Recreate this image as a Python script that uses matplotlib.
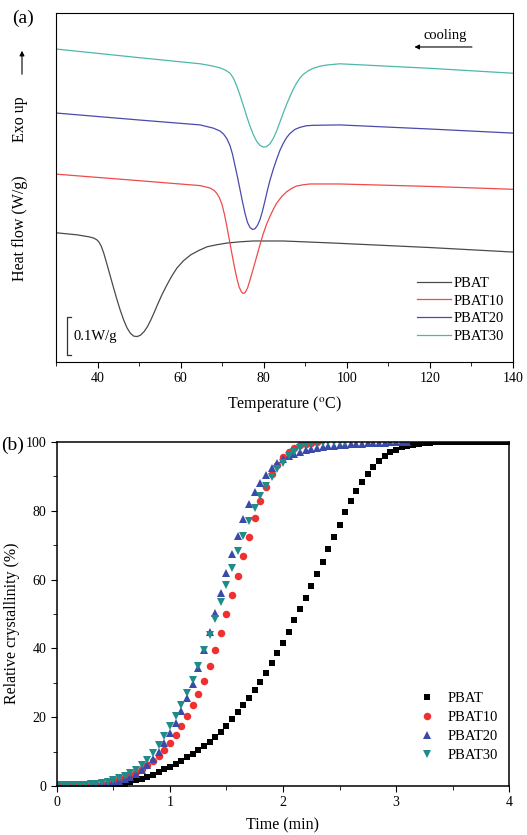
"""DSC cooling curves (a) and relative crystallinity vs time (b)."""
import matplotlib
matplotlib.use("Agg")
import matplotlib.pyplot as plt
from matplotlib.patches import FancyArrowPatch
from matplotlib.ticker import MultipleLocator

plt.rcParams["font.family"] = ["Liberation Serif", "DejaVu Serif"]
plt.rcParams["mathtext.fontset"] = "stix"

labels = ["PBAT", "PBAT10", "PBAT20", "PBAT30"]
line_colors = ["#4a4a4a", "#f04a4a", "#4a4aac", "#4db8aa"]
marker_colors = ["#000000", "#f03030", "#3a4aaa", "#1f8c8a"]
markers = ["s", "o", "^", "v"]

# ---- (a) heat flow (W/g, curves offset) vs temperature
temp_pbat = [30, 35.1, 38.0, 39.1, 39.8, 40.3, 40.9, 41.5, 42.3, 43.1, 43.9, 44.7,
             45.5, 46.3, 47.1, 47.9, 48.7, 49.5, 50.3, 51.2, 52.0, 52.8, 53.6, 54.4,
             55.5, 56.7, 57.9, 59.1, 60.7, 62.4, 64.4, 66.4, 68.8, 71.2, 74.3, 77.5,
             84.7, 96.7, 120, 140]
flow_pbat = [0.315, 0.310, 0.305, 0.302, 0.298, 0.293, 0.282, 0.265, 0.237, 0.208,
             0.179, 0.151, 0.125, 0.102, 0.083, 0.070, 0.063, 0.062, 0.065, 0.074,
             0.086, 0.102, 0.120, 0.139, 0.164, 0.188, 0.210, 0.229, 0.247, 0.261,
             0.272, 0.281, 0.286, 0.290, 0.293, 0.295, 0.295, 0.290, 0.279, 0.268]
temp_pbat10 = [30, 50, 64.7, 67.1, 68.1, 68.7, 69.3, 69.9, 70.5, 71.1, 71.7, 72.3,
               72.9, 73.5, 74.1, 74.7, 75.1, 75.5, 76.1, 76.7, 77.5, 78.3, 79.1,
               79.9, 80.7, 81.5, 82.3, 83.1, 84.3, 85.5, 86.7, 87.9, 89.5, 91.1,
               98.3, 120, 140]
flow_pbat10 = [0.458, 0.442, 0.430, 0.424, 0.418, 0.411, 0.401, 0.386, 0.362, 0.332,
               0.299, 0.266, 0.234, 0.205, 0.182, 0.170, 0.167, 0.169, 0.180, 0.200,
               0.228, 0.257, 0.286, 0.313, 0.336, 0.355, 0.372, 0.387, 0.403, 0.415,
               0.423, 0.429, 0.432, 0.434, 0.434, 0.428, 0.421]
temp_pbat20 = [30, 50, 64.7, 67.9, 69.5, 70.3, 71.1, 71.9, 72.5, 73.1, 73.7, 74.3,
               74.9, 75.5, 76.1, 76.7, 77.3, 77.9, 78.5, 79.1, 79.7, 80.3, 80.9,
               81.5, 82.3, 83.1, 83.9, 84.7, 85.5, 86.3, 87.5, 88.7, 90.3, 91.9,
               98.3, 120, 140]
flow_pbat20 = [0.607, 0.590, 0.578, 0.570, 0.563, 0.556, 0.545, 0.527, 0.506, 0.478,
               0.450, 0.420, 0.390, 0.362, 0.340, 0.328, 0.323, 0.325, 0.333, 0.347,
               0.368, 0.393, 0.419, 0.443, 0.470, 0.494, 0.516, 0.533, 0.547, 0.557,
               0.567, 0.572, 0.576, 0.577, 0.578, 0.568, 0.558]
temp_pbat30 = [30, 50, 64.7, 67.5, 69.5, 70.7, 71.9, 72.7, 73.5, 74.3, 75.1, 75.9,
               76.7, 77.5, 78.3, 79.1, 79.9, 80.7, 81.5, 82.3, 83.1, 83.9, 84.7,
               85.5, 86.3, 87.1, 87.9, 88.7, 89.5, 90.7, 91.9, 93.5, 95.1, 98.3,
               120, 140]
flow_pbat30 = [0.763, 0.742, 0.727, 0.722, 0.717, 0.712, 0.704, 0.692, 0.673, 0.650,
               0.625, 0.599, 0.575, 0.554, 0.538, 0.528, 0.524, 0.525, 0.532, 0.545,
               0.563, 0.585, 0.607, 0.628, 0.647, 0.665, 0.680, 0.692, 0.701, 0.710,
               0.716, 0.721, 0.724, 0.727, 0.716, 0.704]

# ---- (b) relative crystallinity (%) vs time (min)
time_min = [0.00, 0.05, 0.10, 0.15, 0.20, 0.25, 0.30, 0.35, 0.40, 0.45,
            0.50, 0.55, 0.60, 0.65, 0.70, 0.75, 0.80, 0.85, 0.90, 0.95,
            1.00, 1.05, 1.10, 1.15, 1.20, 1.25, 1.30, 1.35, 1.40, 1.45,
            1.50, 1.55, 1.60, 1.65, 1.70, 1.75, 1.80, 1.85, 1.90, 1.95,
            2.00, 2.05, 2.10, 2.15, 2.20, 2.25, 2.30, 2.35, 2.40, 2.45,
            2.50, 2.55, 2.60, 2.65, 2.70, 2.75, 2.80, 2.85, 2.90, 2.95,
            3.00, 3.05, 3.10, 3.15, 3.20, 3.25, 3.30, 3.35, 3.40, 3.45,
            3.50, 3.55, 3.60, 3.65, 3.70, 3.75, 3.80, 3.85, 3.90, 3.95, 4.00]
# PBAT starts at 0.50 min, the others at 0
xc_pbat = [0.0, 0.3, 0.7, 1.1, 1.6, 2.1, 2.7, 3.3, 4.0, 4.8,
           5.6, 6.5, 7.4, 8.4, 9.4, 10.5, 11.6, 12.9, 14.3, 15.8,
           17.4, 19.4, 21.4, 23.4, 25.5, 27.8, 30.2, 32.9, 35.8, 38.7,
           41.7, 44.9, 48.2, 51.4, 54.7, 58.1, 61.6, 65.2, 68.8, 72.4,
           76.0, 79.5, 82.7, 85.7, 88.3, 90.7, 92.8, 94.5, 95.9, 97.0,
           97.8, 98.4, 98.9, 99.2, 99.5, 99.7, 99.8, 99.9, 99.9, 99.9,
           100.0, 100.0, 100.0, 100.0, 100.0, 100.0, 100.0, 100.0, 100.0, 100.0, 100.0]
xc_pbat10 = [0.2, 0.2, 0.2, 0.2, 0.3, 0.3, 0.3, 0.4, 0.6, 0.9,
             1.4, 2.0, 2.6, 3.3, 4.1, 5.0, 6.1, 7.3, 8.8, 10.5,
             12.6, 14.9, 17.5, 20.4, 23.5, 26.8, 30.5, 34.8, 39.5, 44.6,
             50.0, 55.5, 61.0, 66.8, 72.5, 78.0, 82.8, 87.0, 90.6, 93.4,
             95.6, 97.2, 98.3, 99.0, 99.5, 99.8, 100.0]
xc_pbat20 = [0.2, 0.2, 0.2, 0.2, 0.3, 0.3, 0.4, 0.5, 0.6, 0.8,
             1.1, 1.5, 2.0, 2.7, 3.5, 4.6, 6.0, 7.8, 10.0, 12.6,
             15.3, 18.4, 21.8, 25.5, 29.6, 34.2, 39.5, 44.8, 50.2, 56.1,
             62.0, 67.5, 72.7, 77.5, 82.0, 85.5, 88.2, 90.4, 92.4, 93.9,
             95.0, 95.9, 96.6, 97.2, 97.6, 98.0, 98.3, 98.5, 98.7, 98.9,
             99.1, 99.2, 99.3, 99.4, 99.5, 99.6, 99.7, 99.8, 99.8, 99.9,
             99.9, 100.0, 100.0]
xc_pbat30 = [0.3, 0.3, 0.3, 0.3, 0.4, 0.4, 0.5, 0.6, 0.8, 1.1,
             1.6, 2.2, 2.9, 3.7, 4.7, 6.0, 7.6, 9.6, 12.0, 14.6,
             17.3, 20.2, 23.4, 26.9, 30.8, 35.0, 39.5, 43.9, 48.6, 53.5,
             58.4, 63.3, 68.2, 72.8, 77.0, 80.8, 84.2, 87.2, 89.8, 92.0,
             94.0, 95.8, 97.2, 98.3, 99.0, 99.4, 99.7, 99.8, 99.9, 100.0,
             100.0, 100.0]

fig = plt.figure(figsize=(5.27, 8.35), dpi=100)

# ------------------------------------------------------------ panel (a)
ax1 = fig.add_axes([0.1063, 0.5665, 0.8671, 0.418])
curves = [(temp_pbat, flow_pbat), (temp_pbat10, flow_pbat10),
          (temp_pbat20, flow_pbat20), (temp_pbat30, flow_pbat30)]
for (t, f), lab, c in zip(curves, labels, line_colors):
    ax1.plot(t, f, color=c, lw=0.9, label=lab, solid_joinstyle="round")
ax1.set_xlim(30, 140)
ax1.set_ylim(0, 0.851)
ax1.xaxis.set_major_locator(MultipleLocator(20))
ax1.xaxis.set_minor_locator(MultipleLocator(10))
ax1.set_yticks([])
ax1.tick_params(axis="x", which="both", direction="out", labelsize=10, top=False)
ax1.tick_params(axis="x", which="major", length=4)
ax1.tick_params(axis="x", which="minor", length=3)
ax1.set_xlabel(r"Temperature ($^{\mathrm{o}}$C)", fontsize=11.5, labelpad=6)
ax1.legend(loc="lower right", bbox_to_anchor=(1.0, 0.03), frameon=False,
           fontsize=10.5, handlelength=2.3, handletextpad=0.2, labelspacing=0.3,
           borderaxespad=0.2)

# scale bar
ax1.plot([33.7, 32.55, 32.55, 33.7], [0.110, 0.110, 0.017, 0.017], color="#333333", lw=0.9)
ax1.text(34.3, 0.063, "0.1W/g", fontsize=10.5, va="center", ha="left")

# cooling arrow
ax1.annotate("", xy=(115.6, 0.768), xytext=(130.8, 0.768),
             arrowprops=dict(arrowstyle="-|>", color="black", lw=0.8,
                             mutation_scale=7))
ax1.text(123.8, 0.795, "cooling", fontsize=10.5, ha="center", va="center")

# y label with exo up arrow
fig.text(0.038, 1 - 228 / 835, "Heat flow (W/g)", rotation=90, fontsize=11.5,
         ha="center", va="center")
fig.text(0.038, 1 - 119 / 835, "Exo up", rotation=90, fontsize=11.5,
         ha="center", va="center")
fig.patches.append(FancyArrowPatch(
    (22 / 527, 1 - 77 / 835), (22 / 527, 1 - 48 / 835),
    transform=fig.transFigure, arrowstyle="-|>", mutation_scale=7,
    color="black", lw=0.8))
fig.text(12 / 527, 1 - 18 / 835, "(a)", fontsize=14, ha="left", va="center")

# ------------------------------------------------------------ panel (b)
ax2 = fig.add_axes([0.108, 0.0587, 0.858, 0.412])
series = [(time_min[10:10 + len(xc_pbat)], xc_pbat),
          (time_min[:len(xc_pbat10)], xc_pbat10),
          (time_min[:len(xc_pbat20)], xc_pbat20),
          (time_min[:len(xc_pbat30)], xc_pbat30)]
sizes = [4.6, 5.4, 6.2, 6.2]
for (t, y), lab, c, m, ms in zip(series, labels, marker_colors, markers, sizes):
    ax2.plot(t, y, ls="none", marker=m, ms=ms, color=c, mec=c, mew=0, label=lab)
ax2.set_xlim(0, 4)
ax2.set_ylim(0, 100)
ax2.xaxis.set_major_locator(MultipleLocator(1))
ax2.xaxis.set_minor_locator(MultipleLocator(0.5))
ax2.yaxis.set_major_locator(MultipleLocator(20))
ax2.yaxis.set_minor_locator(MultipleLocator(10))
ax2.tick_params(which="both", direction="out", labelsize=10, top=False, right=False)
ax2.tick_params(which="major", length=4)
ax2.tick_params(which="minor", length=3)
for sp in ax2.spines.values():
    sp.set_linewidth(1.1)
ax2.set_xlabel("Time (min)", fontsize=11.5, labelpad=6)
fig.text(12 / 527, 1 - 623 / 835, "Relative crystallinity (%)", rotation=90,
         fontsize=11.5, ha="center", va="center")
ax2.legend(loc="lower right", bbox_to_anchor=(0.995, 0.045), frameon=False,
           fontsize=10.5, handlelength=1.4, handletextpad=0.75, labelspacing=0.4,
           borderaxespad=0.2)
fig.text(1 / 527, 1 - 445 / 835, "(b)", fontsize=14, ha="left", va="center")

fig.savefig("out.png", dpi=100)
plt.close(fig)
